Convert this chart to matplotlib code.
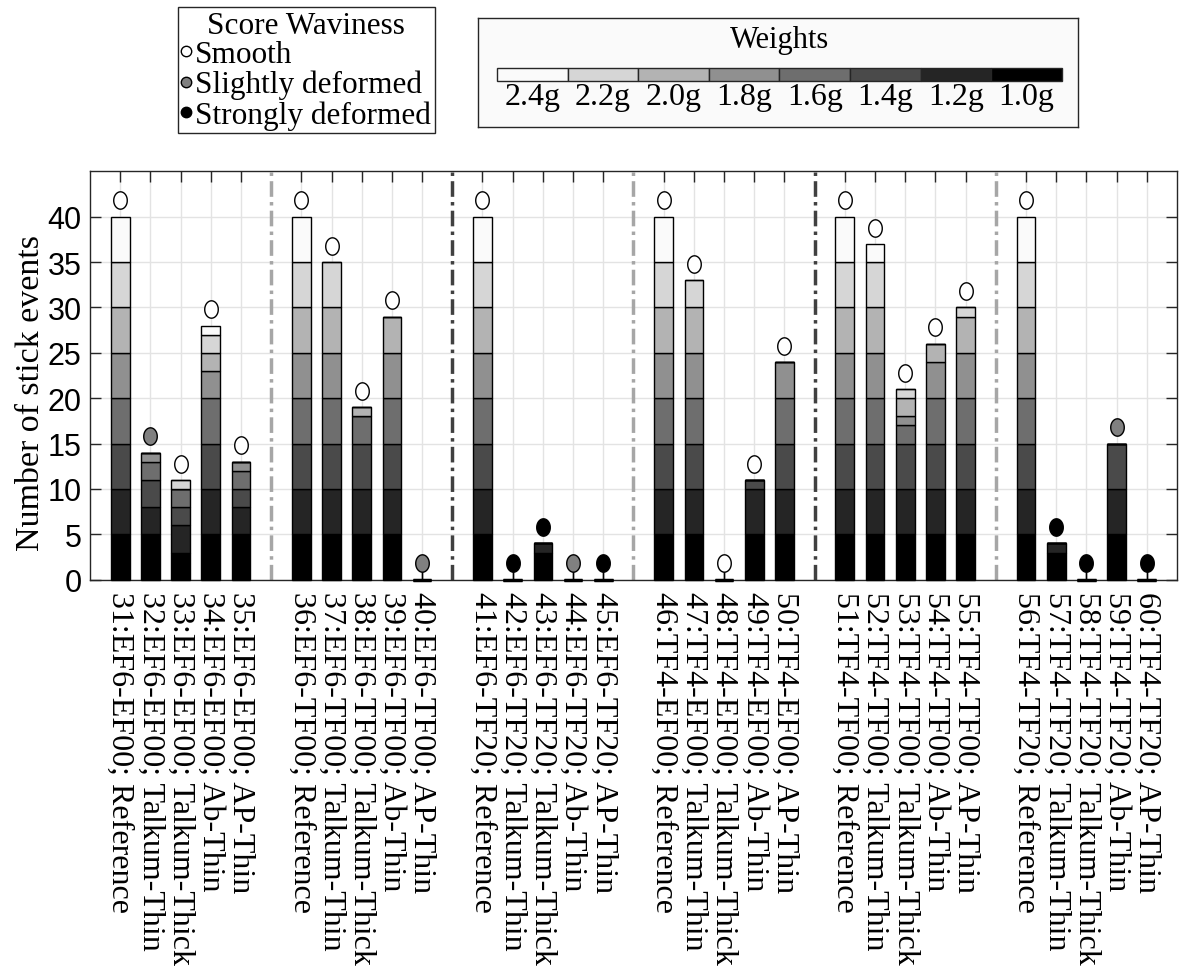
import numpy as np
import matplotlib.pyplot as plt
from matplotlib.lines import Line2D

# bar labels
labels = [
    '31:EF6-EF00; Reference', '32:EF6-EF00; Talkum-Thin', '33:EF6-EF00; Talkum-Thick',
    '34:EF6-EF00; Ab-Thin', '35:EF6-EF00; AP-Thin',
    '36:EF6-TF00; Reference', '37:EF6-TF00; Talkum-Thin', '38:EF6-TF00; Talkum-Thick',
    '39:EF6-TF00; Ab-Thin', '40:EF6-TF00; AP-Thin',
    '41:EF6-TF20; Reference', '42:EF6-TF20; Talkum-Thin', '43:EF6-TF20; Talkum-Thick',
    '44:EF6-TF20; Ab-Thin', '45:EF6-TF20; AP-Thin',
    '46:TF4-EF00; Reference', '47:TF4-EF00; Talkum-Thin', '48:TF4-EF00; Talkum-Thick',
    '49:TF4-EF00; Ab-Thin', '50:TF4-EF00; AP-Thin',
    '51:TF4-TF00; Reference', '52:TF4-TF00; Talkum-Thin', '53:TF4-TF00; Talkum-Thick',
    '54:TF4-TF00; Ab-Thin', '55:TF4-TF00; AP-Thin',
    '56:TF4-TF20; Reference', '57:TF4-TF20; Talkum-Thin', '58:TF4-TF20; Talkum-Thick',
    '59:TF4-TF20; Ab-Thin', '60:TF4-TF20; AP-Thin',
]

# stick events per weight (one value per bar, bars 31..60)
w10 = [5, 5, 3, 5, 5,  5, 5, 5, 5, 0,  5, 0, 3, 0, 0,  5, 5, 0, 5, 5,  5, 5, 5, 5, 5,  5, 3, 0, 5, 0]
w12 = [5, 3, 3, 5, 3,  5, 5, 5, 5, 0,  5, 0, 1, 0, 0,  5, 5, 0, 5, 5,  5, 5, 5, 5, 5,  5, 1, 0, 5, 0]
w14 = [5, 3, 2, 5, 2,  5, 5, 5, 5, 0,  5, 0, 0, 0, 0,  5, 5, 0, 1, 5,  5, 5, 5, 5, 5,  5, 0, 0, 5, 0]
w16 = [5, 2, 2, 5, 2,  5, 5, 3, 5, 0,  5, 0, 0, 0, 0,  5, 5, 0, 0, 5,  5, 5, 2, 5, 5,  5, 0, 0, 0, 0]
w18 = [5, 1, 0, 3, 1,  5, 5, 0, 5, 0,  5, 0, 0, 0, 0,  5, 5, 0, 0, 4,  5, 5, 1, 4, 5,  5, 0, 0, 0, 0]
w20 = [5, 0, 0, 2, 0,  5, 5, 1, 4, 0,  5, 0, 0, 0, 0,  5, 5, 0, 0, 0,  5, 5, 2, 2, 4,  5, 0, 0, 0, 0]
w22 = [5, 0, 1, 2, 0,  5, 5, 0, 0, 0,  5, 0, 0, 0, 0,  5, 3, 0, 0, 0,  5, 5, 1, 0, 1,  5, 0, 0, 0, 0]
w24 = [5, 0, 0, 1, 0,  5, 0, 0, 0, 0,  5, 0, 0, 0, 0,  5, 0, 0, 0, 0,  5, 2, 0, 0, 0,  5, 0, 0, 0, 0]

# score waviness: 0 smooth, 1 slightly deformed, 2 strongly deformed
waviness = [0, 1, 0, 0, 0,  0, 0, 0, 0, 1,  0, 2, 2, 1, 2,  0, 0, 0, 0, 0,  0, 0, 0, 0, 0,  0, 2, 2, 1, 2]

weight_names = ['1.0g', '1.2g', '1.4g', '1.6g', '1.8g', '2.0g', '2.2g', '2.4g']
weight_colors = ['#000000', '#252525', '#4a4a4a', '#6e6e6e', '#909090', '#b3b3b3', '#d6d6d6', '#fafafa']
wav_names = ['Smooth', 'Slightly deformed', 'Strongly deformed']
wav_colors = ['white', '#808080', 'black']

serif = 'Liberation Serif'
sans = 'Liberation Sans'

counts = np.array([w10, w12, w14, w16, w18, w20, w22, w24])
n = counts.shape[1]
x = np.array([i + 1 + i // 5 for i in range(n)])
totals = counts.sum(axis=0)

fig = plt.figure(figsize=(11.79, 9.79), dpi=100)
ax = fig.add_axes([0.0763, 0.4068, 0.9220, 0.4172])

bottom = np.zeros(n)
for k in range(8):
    ax.bar(x, counts[k], bottom=bottom, width=0.62, color=weight_colors[k],
           edgecolor='black', linewidth=1.0, zorder=3, clip_on=False)
    bottom += counts[k]

# flat bars for zero totals
zero = totals == 0
ax.bar(x[zero], np.zeros(zero.sum()), width=0.62, edgecolor='black', linewidth=2.5,
       zorder=3, clip_on=False)
ax.vlines(x[zero], 0, 1.0, color='black', lw=1, zorder=3)

# waviness markers
t = np.linspace(0, 2 * np.pi, 60)
oval = np.column_stack([0.78 * np.cos(t), np.sin(t)])
for s in range(3):
    sel = np.array(waviness) == s
    ax.plot(x[sel], totals[sel] + 1.8, ls='none', marker=oval, ms=12.5,
            mfc=wav_colors[s], mec='black', mew=1, zorder=4)

# group separators
seps = [6, 12, 18, 24, 30]
sep_colors = ['#a6a6a6', '#404040', '#a6a6a6', '#404040', '#a6a6a6']
for sx, c in zip(seps, sep_colors):
    ax.axvline(sx, color=c, lw=2.5, ls=(0, (4.5, 1.5, 1, 1.5)), zorder=2)

ax.set_xlim(0, 36)
ax.set_ylim(0, 45)
ax.set_yticks(range(0, 45, 5))
ax.set_xticks(x)
ax.set_xticklabels(labels, rotation=-90, ha='center', va='top',
                   fontsize=23, fontfamily=serif)
for lab in ax.get_yticklabels():
    lab.set_fontfamily(sans)
    lab.set_fontsize(22)
ax.tick_params(direction='in', length=8, top=True, right=True, width=1, color='#262626')
ax.tick_params(axis='x', pad=8)
ax.tick_params(axis='y', pad=6)
ax.grid(True, color='#e3e3e3', lw=1)
ax.set_axisbelow(True)
for sp in ax.spines.values():
    sp.set_color('#262626')
    sp.set_linewidth(1)
ax.set_ylabel('Number of stick events', fontsize=24.5, fontfamily=serif)
ax.yaxis.set_label_coords(-0.040, 0.46)

# score waviness legend
handles = [Line2D([], [], ls='none', marker='o', ms=7.5, mfc=c, mec='black', mew=1)
           for c in wav_colors]
leg = fig.legend(handles, wav_names, title='Score Waviness', loc='upper left',
                 bbox_to_anchor=(178 / 1179, 1 - 8 / 979), frameon=True, fancybox=False,
                 edgecolor='#262626', framealpha=1, handlelength=0.3, handletextpad=0.12,
                 labelspacing=0.02, borderpad=0.12, borderaxespad=0,
                 prop={'family': serif, 'size': 22.5},
                 title_fontproperties={'family': serif, 'size': 22.5})
leg.get_frame().set_linewidth(1)

# weights legend
lax = fig.add_axes([478 / 1179, 1 - 128 / 979, 600 / 1179, 109 / 979])
lax.set_facecolor('#fafafa')
lax.set_xlim(-0.77, 7.73)
lax.set_ylim(0, 1)
order = list(range(7, -1, -1))
lax.bar(range(8), [0.119] * 8, bottom=0.422, width=1.0,
        color=[weight_colors[k] for k in order], edgecolor='#262626', linewidth=1)
for i, k in enumerate(order):
    lax.text(i, 0.284, weight_names[k], ha='center', va='center',
             fontsize=23, fontfamily=serif)
lax.text(3.5, 0.80, 'Weights', ha='center', va='center', fontsize=22, fontfamily=serif)
lax.set_xticks([])
lax.set_yticks([])
for sp in lax.spines.values():
    sp.set_color('#262626')
    sp.set_linewidth(1)

fig.savefig('out.png', dpi=100)
